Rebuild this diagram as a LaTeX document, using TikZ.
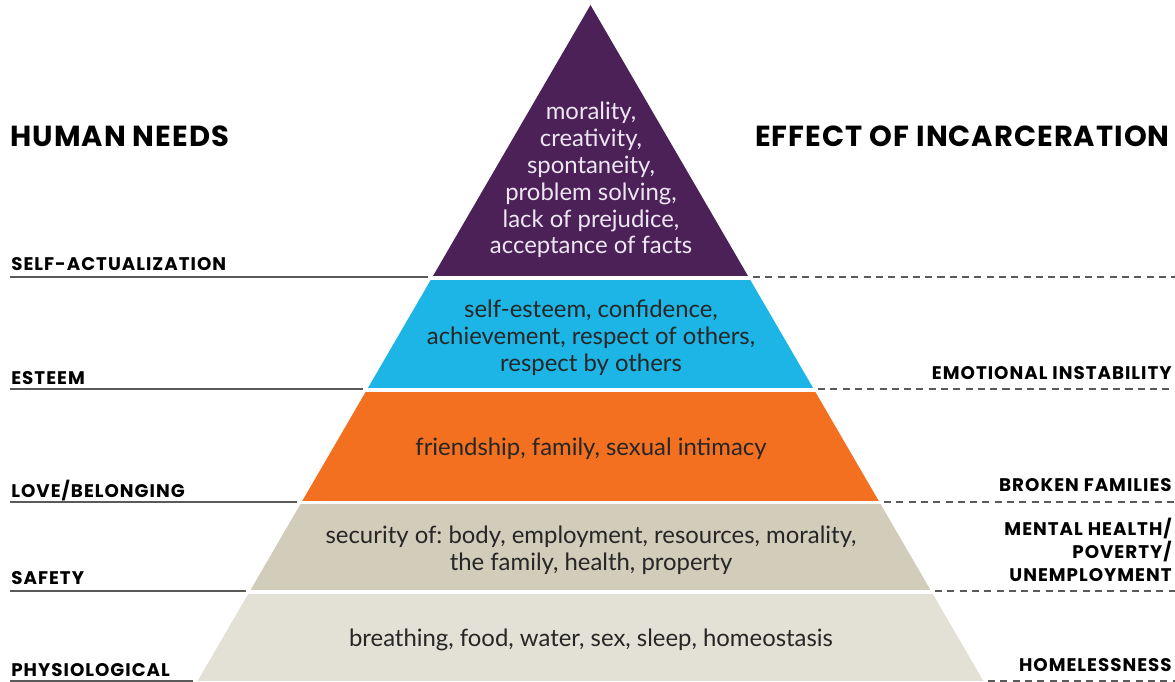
\documentclass[tikz,border=0pt]{standalone}
\usepackage{fontspec}
\setmainfont{Lato}
\newfontfamily\headfont{Poppins}[LetterSpace=3.5]
\newfontfamily\labelfont{Poppins}[LetterSpace=5.5]
\definecolor{actualc}{HTML}{4B2158}
\definecolor{esteemc}{HTML}{1CB5E6}
\definecolor{lovec}{HTML}{F37021}
\definecolor{safetyc}{HTML}{D2CCBA}
\definecolor{physc}{HTML}{E3E0D5}
\definecolor{rulec}{HTML}{5A5A5A}
\definecolor{lilac}{HTML}{EEE6F3}
\frenchspacing

\begin{document}
\begin{tikzpicture}[x=0.02cm,y=-0.02cm,
	head/.style={font=\headfont\bfseries\fontsize{16.5}{18}\selectfont,inner sep=0},
	need/.style={font=\labelfont\bfseries\fontsize{10.4}{12}\selectfont,inner sep=0,anchor=base west},
	effect/.style={font=\labelfont\bfseries\fontsize{10.4}{13}\selectfont,inner sep=0,anchor=base east,align=right},
	inside/.style={font=\fontsize{13.6}{15.3}\selectfont,align=center,inner sep=0},
	needline/.style={draw=rulec,line width=1.1pt},
	effectline/.style={draw=rulec,line width=1.1pt,dash pattern=on 4pt off 3pt}]
	\useasboundingbox (0,0) rectangle (1175,681);

	\begin{scope}
		\clip (590.5,5) -- (197.6,681) -- (983.4,681) -- cycle;
		\fill[actualc] (0,0) rectangle (1175,276);
		\fill[esteemc] (0,280) rectangle (1175,388);
		\fill[lovec] (0,392) rectangle (1175,501);
		\fill[safetyc] (0,504) rectangle (1175,590);
		\fill[physc] (0,594) rectangle (1175,681);
	\end{scope}

	\node[inside,text=lilac] (actualtxt) at (591,180) {morality,\\creativity,\\spontaneity,\\problem solving,\\lack of prejudice,\\acceptance of facts};
	\node[inside,text=black!85] (esteemtxt) at (591,338) {self-esteem, confidence,\\achievement, respect of others,\\respect by others};
	\node[inside,text=black!85] (lovetxt) at (591,449) {friendship, family, sexual intimacy};
	\node[inside,text=black!85] (safetytxt) at (591,550) {security of: body, employment, resources, morality,\\the family, health, property};
	\node[inside,text=black!85] (phystxt) at (591,640) {breathing, food, water, sex, sleep, homeostasis};

	\node[head,anchor=base west] (needs) at (10,146) {HUMAN NEEDS};
	\node[head,anchor=base east] (effects) at (1170,146) {EFFECT OF INCARCERATION};

	\node[need] (selfact) at (11,270) {SELF-ACTUALIZATION};
	\node[need] (esteem) at (11,384) {ESTEEM};
	\node[need] (love) at (11,497) {LOVE/BELONGING};
	\node[need] (safety) at (11,584) {SAFETY};
	\node[need] (phys) at (11,676) {PHYSIOLOGICAL};

	\node[effect] (emotional) at (1172,379) {EMOTIONAL INSTABILITY};
	\node[effect] (broken) at (1172,491) {BROKEN FAMILIES};
	\node[effect,anchor=north east] (mental) at (1172,518) {MENTAL HEALTH/\\POVERTY/\\UNEMPLOYMENT};
	\node[effect] (homeless) at (1172,671) {HOMELESSNESS};

	\coordinate (l1) at (10,277); \coordinate (p1) at (428,277);
	\coordinate (l2) at (10,389); \coordinate (p2) at (363,389);
	\coordinate (l3) at (10,502); \coordinate (p3) at (297,502);
	\coordinate (l4) at (10,591); \coordinate (p4) at (246,591);
	\coordinate (l5) at (10,681); \coordinate (p5) at (193,681);

	\coordinate (q1) at (753,277); \coordinate (r1) at (1175,277);
	\coordinate (q2) at (818,389); \coordinate (r2) at (1175,389);
	\coordinate (q3) at (884,502); \coordinate (r3) at (1175,502);
	\coordinate (q4) at (935,591); \coordinate (r4) at (1175,591);
	\coordinate (q5) at (988,681); \coordinate (r5) at (1175,681);

	\foreach \i in {1,...,5} {
		\draw[needline] (l\i) -- (p\i);
		\draw[effectline] (q\i) -- (r\i);
	}
\end{tikzpicture}
\end{document}
